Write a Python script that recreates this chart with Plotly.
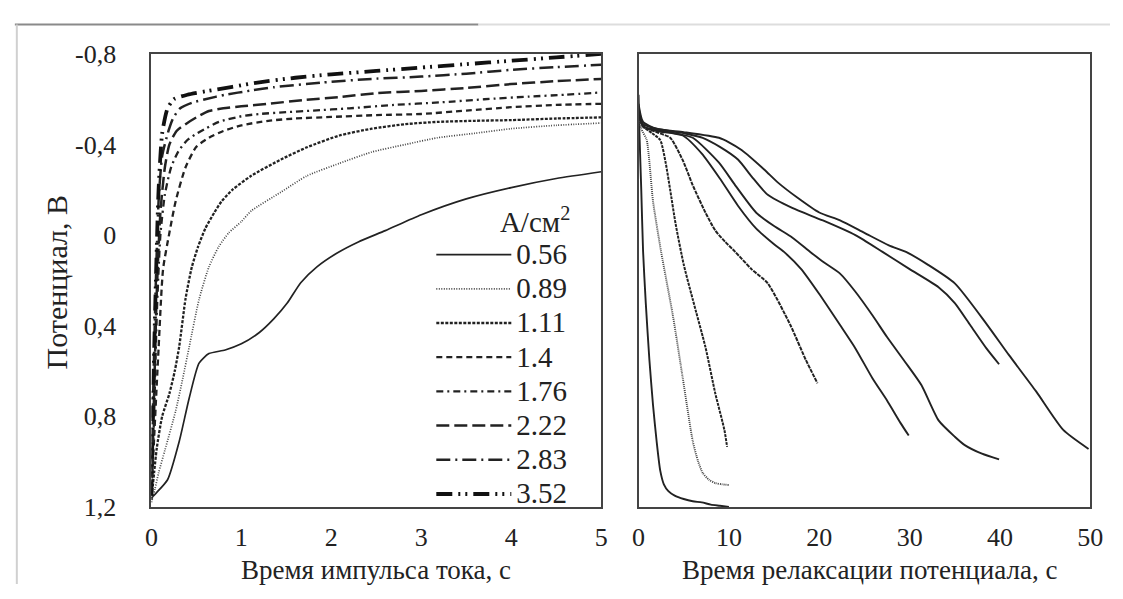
import plotly.graph_objects as go

# ---------------- data ----------------
currents = ["0.56", "0.89", "1.11", "1.4", "1.76", "2.22", "2.83", "3.52"]

# Left panel: potential (V) during current pulse, time in s
pulse_t = {
    "0.56": [0, 0.05, 0.18, 0.31, 0.42, 0.53, 0.64, 0.82, 1.0, 1.2, 1.36, 1.51, 1.66, 1.84, 2.06, 2.3, 2.6, 3.0, 3.5, 4.0, 4.5, 5.0],
    "0.89": [0, 0.04, 0.08, 0.15, 0.27, 0.35, 0.42, 0.53, 0.64, 0.75, 0.86, 1.0, 1.11, 1.44, 1.73, 2.09, 2.45, 2.82, 3.18, 3.6, 4.0, 4.5, 5.0],
    "1.11": [0, 0.03, 0.06, 0.12, 0.2, 0.26, 0.31, 0.38, 0.45, 0.52, 0.6, 0.7, 0.78, 0.9, 1.11, 1.44, 1.73, 2.09, 2.45, 2.82, 3.18, 3.6, 4.0, 4.5, 5.0],
    "1.4": [0, 0.03, 0.08, 0.13, 0.2, 0.27, 0.38, 0.5, 0.64, 0.8, 1.0, 1.3, 1.6, 2.0, 2.5, 3.0, 3.5, 4.0, 4.5, 5.0],
    "1.76": [0, 0.03, 0.06, 0.1, 0.15, 0.22, 0.3, 0.4, 0.49, 0.6, 0.75, 1.0, 1.2, 1.5, 1.8, 2.2, 2.7, 3.2, 3.7, 4.2, 4.6, 5.0],
    "2.22": [0, 0.03, 0.06, 0.1, 0.15, 0.2, 0.28, 0.38, 0.5, 0.64, 0.8, 1.0, 1.3, 1.7, 2.1, 2.5, 3.0, 3.5, 4.0, 4.5, 5.0],
    "2.83": [0, 0.02, 0.05, 0.08, 0.12, 0.19, 0.24, 0.32, 0.46, 0.6, 0.82, 1.1, 1.36, 1.9, 2.45, 3.0, 3.5, 4.0, 4.5, 5.0],
    "3.52": [0, 0.02, 0.05, 0.08, 0.12, 0.18, 0.25, 0.4, 0.6, 0.9, 1.2, 1.6, 2.0, 2.5, 3.0, 3.5, 4.0, 4.5, 5.0],
}
pulse_v = {
    "0.56": [1.16, 1.14, 1.08, 0.91, 0.72, 0.565, 0.523, 0.507, 0.48, 0.43, 0.37, 0.30, 0.21, 0.14, 0.08, 0.03, -0.02, -0.09, -0.16, -0.21, -0.25, -0.28],
    "0.89": [1.18, 1.12, 1.05, 0.95, 0.776, 0.63, 0.494, 0.284, 0.14, 0.05, -0.01, -0.06, -0.107, -0.19, -0.262, -0.317, -0.367, -0.40, -0.43, -0.45, -0.47, -0.485, -0.495],
    "1.11": [1.17, 1.05, 0.94, 0.80, 0.70, 0.60, 0.49, 0.28, 0.14, 0.05, -0.03, -0.10, -0.149, -0.20, -0.262, -0.334, -0.388, -0.44, -0.47, -0.49, -0.50, -0.505, -0.508, -0.515, -0.52],
    "1.4": [1.15, 0.9, 0.5, 0.15, -0.01, -0.15, -0.30, -0.39, -0.43, -0.46, -0.485, -0.505, -0.515, -0.522, -0.53, -0.535, -0.55, -0.565, -0.575, -0.58],
    "1.76": [1.15, 0.8, 0.35, 0.0, -0.18, -0.30, -0.37, -0.42, -0.445, -0.47, -0.50, -0.525, -0.535, -0.543, -0.55, -0.56, -0.575, -0.586, -0.60, -0.612, -0.62, -0.63],
    "2.22": [1.15, 0.7, 0.25, -0.1, -0.3, -0.4, -0.46, -0.49, -0.52, -0.548, -0.56, -0.569, -0.58, -0.597, -0.61, -0.627, -0.637, -0.65, -0.667, -0.68, -0.69],
    "2.83": [1.15, 0.7, 0.2, -0.15, -0.35, -0.46, -0.515, -0.56, -0.586, -0.60, -0.62, -0.638, -0.653, -0.674, -0.69, -0.70, -0.713, -0.73, -0.742, -0.752],
    "3.52": [1.15, 0.7, 0.2, -0.2, -0.45, -0.56, -0.60, -0.62, -0.635, -0.655, -0.675, -0.695, -0.71, -0.725, -0.74, -0.755, -0.77, -0.785, -0.80],
}

# Right panel: potential relaxation (V), time in s
relax_t = {
    "0.56": [0, 0.1, 0.3, 0.5, 0.8, 1.2, 1.6, 2.0, 2.4, 2.8, 3.3, 4, 5, 6, 7, 8, 9, 10],
    "0.89": [0, 0.3, 0.9, 1.6, 2.5, 3.8, 4.9, 6.0, 6.6, 7.1, 7.8, 8.5, 9.2, 10],
    "1.11": [0, 0.5, 1.5, 2.4, 3.0, 3.5, 4.1, 5.0, 6.0, 7.4, 8.5, 9.5, 9.8],
    "1.4": [0, 0.5, 2, 3.5, 4.9, 6.0, 7.4, 8.5, 9.6, 10.7, 12.5, 14.3, 16.8, 18.5, 19.8],
    "1.76": [0, 0.5, 2, 4.9, 7, 9, 11, 13, 15, 16.1, 18, 20, 22.3, 24, 25.9, 27.5, 29, 29.9],
    "2.22": [0, 0.5, 2, 4, 6, 8.9, 10.7, 13, 15, 17, 19, 20.5, 22.3, 24, 25.9, 27.5, 29.5, 31.3, 33.2, 35, 36.1, 38, 39.9],
    "2.83": [0, 0.5, 2, 5, 7.1, 9, 11, 12.5, 14.3, 17, 20.4, 24, 27, 30, 33.2, 35, 36.7, 38.5, 39.9],
    "3.52": [0, 0.5, 2, 5, 8.9, 10, 11.4, 13.9, 15.4, 17.6, 20, 22.3, 25, 27.7, 29.6, 32, 35, 38.6, 41, 44, 47, 49.8],
}
relax_v = {
    "0.56": [-0.62, -0.45, -0.2, 0.07, 0.3, 0.55, 0.75, 0.91, 1.04, 1.10, 1.13, 1.15, 1.165, 1.175, 1.18, 1.19, 1.195, 1.2],
    "0.89": [-0.55, -0.47, -0.42, -0.15, 0.074, 0.355, 0.633, 0.91, 1.0, 1.05, 1.08, 1.095, 1.1, 1.103],
    "1.11": [-0.55, -0.48, -0.45, -0.42, -0.32, -0.2, -0.05, 0.13, 0.284, 0.494, 0.70, 0.86, 0.935],
    "1.4": [-0.55, -0.48, -0.455, -0.43, -0.33, -0.22, -0.1, -0.02, 0.03, 0.074, 0.15, 0.213, 0.397, 0.55, 0.654],
    "1.76": [-0.56, -0.48, -0.46, -0.44, -0.36, -0.25, -0.13, -0.03, 0.04, 0.074, 0.15, 0.26, 0.397, 0.5, 0.633, 0.73, 0.83, 0.885],
    "2.22": [-0.56, -0.48, -0.465, -0.45, -0.43, -0.32, -0.22, -0.1, -0.04, 0.01, 0.074, 0.12, 0.17, 0.25, 0.355, 0.45, 0.56, 0.662, 0.818, 0.89, 0.927, 0.965, 0.99],
    "2.83": [-0.57, -0.49, -0.47, -0.45, -0.43, -0.39, -0.334, -0.26, -0.178, -0.12, -0.065, 0.0, 0.074, 0.15, 0.23, 0.3, 0.397, 0.5, 0.57],
    "3.52": [-0.58, -0.5, -0.47, -0.455, -0.43, -0.41, -0.376, -0.29, -0.233, -0.165, -0.1, -0.065, -0.01, 0.045, 0.074, 0.13, 0.213, 0.397, 0.53, 0.69, 0.86, 0.944],
}

y_tickvals = [-0.8, -0.4, 0, 0.4, 0.8, 1.2]
y_ticktext = ["-0,8", "-0,4", "0", "0,4", "0,8", "1,2"]
x1_tickvals = [0, 1, 2, 3, 4, 5]
x2_tickvals = [0, 10, 20, 30, 40, 50]

legend_title = "А/см<sup>2</sup>"
x1_title = "Время импульса тока, с"
x2_title = "Время релаксации потенциала, с"
y_title = "Потенциал, В"

# ---------------- styles ----------------
left_style = {
    "0.56": dict(dash="solid", width=1.7, color="#222"),
    "0.89": dict(dash="1px,1.5px", width=1.7, color="#444"),
    "1.11": dict(dash="3px,1.5px", width=2.3, color="#222"),
    "1.4": dict(dash="6px,4px", width=2.3, color="#222"),
    "1.76": dict(dash="7px,4px,2px,4px", width=2.3, color="#222"),
    "2.22": dict(dash="13px,5px", width=2.5, color="#222"),
    "2.83": dict(dash="14px,5px,2px,5px", width=2.5, color="#222"),
    "3.52": dict(dash="16px,6px,2px,5px,2px,6px", width=3.8, color="#111"),
}
right_style = {
    "0.56": dict(dash="solid", width=1.9, color="#222"),
    "0.89": dict(dash="1px,1px", width=1.9, color="#444"),
    "1.11": dict(dash="3px,1px", width=2.0, color="#222"),
    "1.4": dict(dash="4px,1px", width=2.0, color="#222"),
    "1.76": dict(dash="solid", width=1.9, color="#222"),
    "2.22": dict(dash="solid", width=1.9, color="#222"),
    "2.83": dict(dash="solid", width=1.9, color="#222"),
    "3.52": dict(dash="solid", width=1.9, color="#222"),
}

FONT = "Liberation Serif, Times New Roman, Times, serif"
W, H = 1123, 599
TICK_SIZE = 26
TITLE_SIZE = 27
LEGEND_TEXT_SIZE = 29

fig = go.Figure()
for c in currents:
    fig.add_trace(go.Scatter(
        x=pulse_t[c], y=pulse_v[c], mode="lines",
        name='<span style="font-size:%dpx">%s</span>' % (LEGEND_TEXT_SIZE, c),
        line=dict(**left_style[c], shape="spline", smoothing=0.6),
        xaxis="x", yaxis="y", showlegend=True,
    ))
for c in currents:
    fig.add_trace(go.Scatter(
        x=relax_t[c], y=relax_v[c], mode="lines", name=c,
        line=dict(**right_style[c], shape="spline", smoothing=0.6),
        xaxis="x2", yaxis="y2", showlegend=False,
    ))


def px(x):
    return x / W


def py(y):
    return 1 - y / H


axis_common = dict(
    showline=True, mirror=True, linecolor="#444", linewidth=1.8,
    showgrid=False, zeroline=False, ticks="",
    tickfont=dict(family=FONT, size=TICK_SIZE, color="#222"),
)

fig.update_layout(
    width=W, height=H,
    margin=dict(l=0, r=0, t=0, b=0),
    paper_bgcolor="white", plot_bgcolor="white",
    font=dict(family=FONT, color="#222"),
    xaxis=dict(domain=[px(147), px(605)], range=[0, 5], tickvals=x1_tickvals,
               ticklabelstandoff=6, anchor="y", **axis_common),
    yaxis=dict(domain=[py(518), py(42)], range=[1.2, -0.8], tickvals=y_tickvals, ticktext=y_ticktext,
               ticklabelstandoff=28, anchor="x", **axis_common),
    xaxis2=dict(domain=[px(643), px(1103)], range=[0, 50], tickvals=x2_tickvals,
                ticklabelstandoff=6, anchor="y2", **axis_common),
    yaxis2=dict(domain=[py(518), py(42)], range=[1.2, -0.8], tickvals=y_tickvals,
                showticklabels=False, anchor="x2", **axis_common),
    legend=dict(
        x=px(432), y=py(190), xanchor="left", yanchor="top",
        bgcolor="rgba(0,0,0,0)", borderwidth=0,
        font=dict(family=FONT, size=24, color="#222"),
        title=dict(text=legend_title, side="top right",
                   font=dict(family=FONT, size=LEGEND_TEXT_SIZE, color="#222")),
        itemwidth=75, tracegroupgap=0,
    ),
    annotations=[
        dict(text=x1_title, xref="paper", yref="paper", x=px(376), y=py(584),
             xanchor="center", yanchor="middle", showarrow=False, borderpad=0,
             font=dict(family=FONT, size=TITLE_SIZE, color="#222")),
        dict(text=x2_title, xref="paper", yref="paper", x=px(878), y=py(584),
             xanchor="center", yanchor="middle", showarrow=False, borderpad=0,
             font=dict(family=FONT, size=TITLE_SIZE, color="#222")),
        dict(text=y_title, xref="paper", yref="paper", x=px(50), y=py(282),
             xanchor="center", yanchor="middle", showarrow=False, textangle=-90,
             font=dict(family=FONT, size=30, color="#222")),
    ],
    shapes=[
        dict(type="line", xref="paper", yref="paper", x0=px(8), x1=px(480), y0=py(11), y1=py(11),
             line=dict(color="#8a8a8a", width=2)),
        dict(type="line", xref="paper", yref="paper", x0=px(480), x1=1, y0=py(11), y1=py(11),
             line=dict(color="#dddddd", width=2)),
        dict(type="line", xref="paper", yref="paper", x0=px(10), x1=px(10), y0=py(11), y1=0,
             line=dict(color="#d0d0d0", width=2)),
    ],
)

fig.write_html("out.html")
